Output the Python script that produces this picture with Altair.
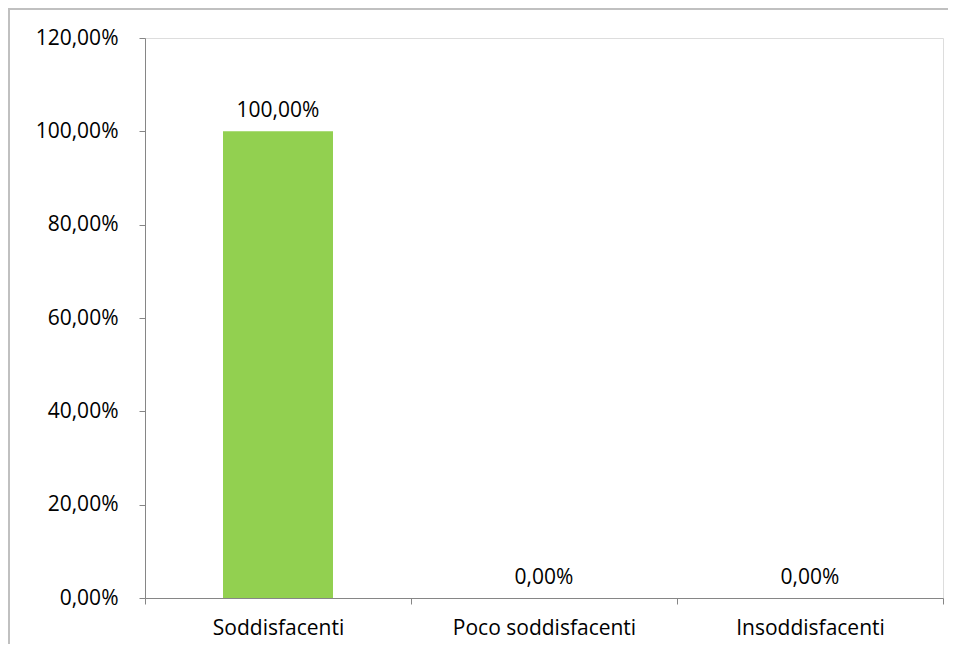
import altair as alt
import pandas as pd

categories = ["Soddisfacenti", "Poco soddisfacenti", "Insoddisfacenti"]
values = [100.0, 0.0, 0.0]
y_ticks = [0, 20, 40, 60, 80, 100, 120]

df = pd.DataFrame({"cat": categories, "val": values})
df["label"] = [f"{v:.2f}".replace(".", ",") + "%" for v in values]

FONT = "Open Sans"
FS = 21

x_enc = alt.X(
    "cat:N", sort=categories, title=None,
    scale=alt.Scale(paddingInner=0, paddingOuter=0),
    axis=alt.Axis(
        labelAngle=0, labelFont=FONT, labelFontSize=FS, labelColor="#000000",
        labelPadding=13, labelLimit=400, tickBand="extent", tickSize=6,
        tickColor="#868686", domainColor="#868686", grid=False,
    ),
)
y_enc = alt.Y(
    "val:Q", title=None,
    scale=alt.Scale(domain=[0, 120], nice=False),
    axis=alt.Axis(
        values=y_ticks, grid=False, labelFont=FONT, labelFontSize=FS,
        labelColor="#000000", labelPadding=21, tickSize=6,
        tickColor="#868686", domainColor="#868686",
        labelExpr="replace(format(datum.value, '.2f'), '.', ',') + '%'",
    ),
)

base = alt.Chart(df)
bars = base.mark_bar(color="#92D050", size=110).encode(x=x_enc, y=y_enc)
labels = base.mark_text(
    font=FONT, fontSize=FS, color="#000000", dy=-10, baseline="bottom"
).encode(x=x_enc, y=y_enc, text="label:N")

frame_top = alt.Chart(df).mark_rule(color="#BFBFBF", strokeWidth=1.5).encode(
    x=alt.value(-137), x2=alt.value(805), y=alt.value(-29)
)
frame_left = alt.Chart(df).mark_rule(color="#BFBFBF", strokeWidth=1.5).encode(
    x=alt.value(-136), y=alt.value(-30), y2=alt.value(606)
)

chart = (
    alt.layer(bars, labels, frame_top, frame_left)
    .properties(
        width=798, height=560,
        autosize=alt.AutoSizeParams(type="none"),
        padding={"left": 137, "top": 30, "right": 5, "bottom": 46},
    )
    .configure_view(stroke=None)
    .configure(background="#FFFFFF")
)

chart.save("out.html", embed_options={"renderer": "svg", "actions": False})
